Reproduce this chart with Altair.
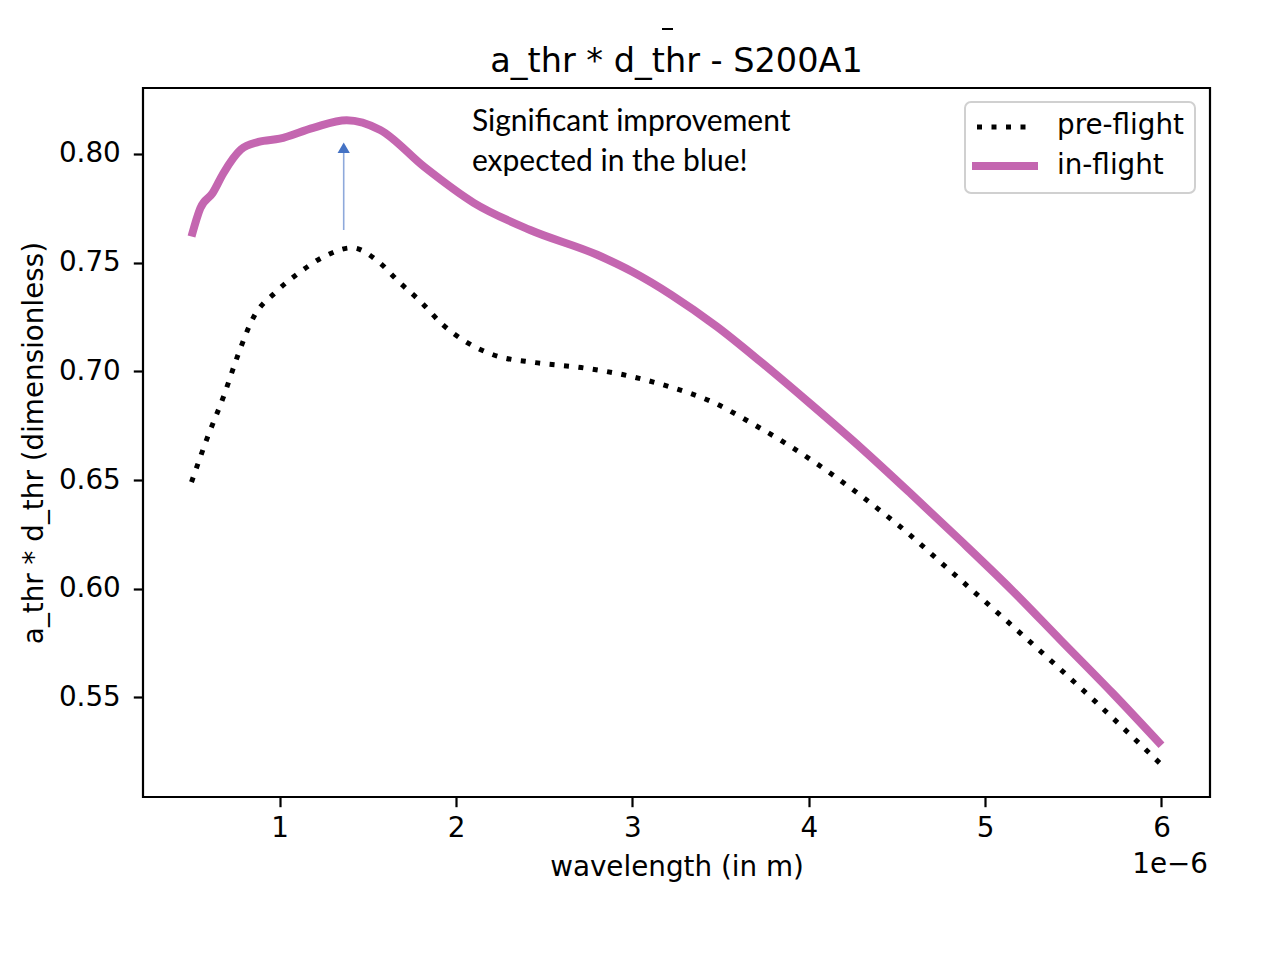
import altair as alt
import pandas as pd

# wavelength in units of 1e-6 m
wl_in = [0.50, 0.55, 0.62, 0.68, 0.78, 0.88, 1.00, 1.19, 1.38, 1.57, 1.82, 2.10, 2.42,
         2.80, 3.00, 3.22, 3.48, 3.73, 4.01, 4.30, 4.58, 4.86, 5.15, 5.43, 5.72, 6.00]
val_in = [0.762, 0.775, 0.782, 0.791, 0.802, 0.8055, 0.807, 0.812, 0.8155, 0.811, 0.794,
          0.7775, 0.765, 0.7536, 0.7458, 0.7352, 0.7205, 0.7042, 0.685, 0.6645, 0.6436,
          0.6222, 0.5995, 0.5762, 0.5522, 0.528]
wl_pre = [0.50, 0.59, 0.68, 0.76, 0.85, 0.98, 1.11, 1.25, 1.41, 1.56, 1.675, 1.80, 1.925,
          2.055, 2.21, 2.45, 2.71, 2.95, 3.21, 3.45, 3.70, 3.88, 4.04, 4.30, 4.56, 4.75,
          5.19, 5.63, 6.00]
val_pre = [0.649, 0.6695, 0.688, 0.7067, 0.7246, 0.7366, 0.7453, 0.7527, 0.7568, 0.7504,
           0.7412, 0.732, 0.7214, 0.7136, 0.7076, 0.704, 0.7017, 0.6984, 0.6929, 0.686,
           0.675, 0.6663, 0.6578, 0.6425, 0.6257, 0.612, 0.5803, 0.5477, 0.519]

x_ticks = [1, 2, 3, 4, 5, 6]
y_ticks = [0.55, 0.60, 0.65, 0.70, 0.75, 0.80]
series_names = ["pre-flight", "in-flight"]
title_text = "a_thr * d_thr - S200A1"
x_title = "wavelength (in m)"
y_title = "a_thr * d_thr (dimensionless)"
annotation_lines = ["Significant improvement", "expected in the blue!"]
arrow_x = [1.363]
arrow_y0 = [0.765]
arrow_y1 = [0.8012]
arrow_head_y = [0.8028]
ann_x = [2.09]
ann_y = [0.8106]

MAGENTA = "#C466B0"
FONT = "DejaVu Sans"
W, H = 1067, 709

df_in = pd.DataFrame({"wl": wl_in, "val": val_in})
df_pre = pd.DataFrame({"wl": wl_pre, "val": val_pre})

x_scale = alt.Scale(domain=[0.225, 6.275], nice=False, zero=False)
y_scale = alt.Scale(domain=[0.5042, 0.8303], nice=False, zero=False)

x_axis = alt.Axis(values=x_ticks, format="d", title=x_title, labelFontSize=27.8,
                  titleFontSize=27.8, titleFontWeight="normal", labelFont=FONT, titleFont=FONT,
                  labelColor="black", titleColor="black", tickColor="black",
                  tickSize=9.7, tickWidth=2.2, labelPadding=8,
                  titlePadding=11, domain=False, grid=False)
y_axis = alt.Axis(values=y_ticks, format=".2f", title=y_title, labelFontSize=27.8,
                  titleFontSize=27.8, titleFontWeight="normal", labelFont=FONT, titleFont=FONT,
                  labelColor="black", titleColor="black", tickColor="black",
                  tickSize=9.7, tickWidth=2.2, labelPadding=13,
                  titlePadding=10, domain=False, grid=False)

pre = alt.Chart(df_pre).mark_line(
    color="black", strokeWidth=5, strokeDash=[5, 9.5], strokeCap="butt", interpolate="monotone"
).encode(
    x=alt.X("wl:Q", scale=x_scale, axis=x_axis),
    y=alt.Y("val:Q", scale=y_scale, axis=y_axis),
)

inf = alt.Chart(df_in).mark_line(
    color=MAGENTA, strokeWidth=8, strokeCap="butt", interpolate="monotone"
).encode(x="wl:Q", y="val:Q")

arrow_df = pd.DataFrame({"x": arrow_x, "y0": arrow_y0, "y1": arrow_y1, "yh": arrow_head_y})
arrow = alt.Chart(arrow_df).mark_rule(color="#8EA9DB", strokeWidth=1.6).encode(
    x="x:Q", y="y0:Q", y2="y1:Q")
head = alt.Chart(arrow_df).mark_point(
    shape="triangle-up", filled=True, color="#4472C4", size=150, opacity=1
).encode(x="x:Q", y="yh:Q")

ann_df = pd.DataFrame({"x": ann_x, "y": ann_y, "t": [annotation_lines]})
ann = alt.Chart(ann_df).mark_text(
    align="left", baseline="alphabetic", font="Lato", fontSize=30, lineHeight=40, color="black"
).encode(x="x:Q", y="y:Q", text="t")

one = pd.DataFrame({"k": [0]})
leg_box = alt.Chart(one).mark_rect(
    fill="white", fillOpacity=0.8, stroke="#d0d0d0", strokeWidth=2, cornerRadius=6
).encode(x=alt.value(822), x2=alt.value(1052), y=alt.value(14), y2=alt.value(105))

leg_pre = alt.Chart(one).mark_rule(
    color="black", strokeWidth=5, strokeDash=[5, 9.5], strokeCap="butt"
).encode(x=alt.value(834), x2=alt.value(884), y=alt.value(39))
leg_in = alt.Chart(one).mark_rule(color=MAGENTA, strokeWidth=8, strokeCap="butt").encode(
    x=alt.value(829), x2=alt.value(895), y=alt.value(78))

leg_text_df = pd.DataFrame({"name": series_names, "py": [38, 78]})
leg_text = alt.Chart(leg_text_df).mark_text(
    align="left", baseline="middle", font=FONT, fontSize=27.8, color="black"
).encode(x=alt.value(914), y=alt.Y("py:Q", scale=None), text="name:N")

offset_df = pd.DataFrame({"t": ["1e\u22126"]})
offset = alt.Chart(offset_df).mark_text(
    align="right", baseline="alphabetic", font=FONT, fontSize=27.8, color="black"
).encode(x=alt.value(1065), y=alt.value(785), text="t:N")

title_df = pd.DataFrame({"t": [title_text]})
title = alt.Chart(title_df).mark_text(
    align="center", baseline="alphabetic", font=FONT, fontSize=33.5, color="black"
).encode(x=alt.value(W / 2), y=alt.value(-16), text="t:N")

remnant = alt.Chart(one).mark_rule(color="black", strokeWidth=2).encode(
    x=alt.value(519), x2=alt.value(530), y=alt.value(-59))

chart = alt.layer(
    pre, inf, arrow, head, ann, leg_box, leg_pre, leg_in, leg_text, offset, title, remnant
).properties(
    width=W, height=H,
    background="white",
    padding={"left": 135, "top": 80, "right": 55, "bottom": 120},
    autosize=alt.AutoSizeParams(type="none"),
).configure_view(
    stroke="black", strokeWidth=2.2
)

chart.save("out.html", embed_options={"renderer": "svg", "actions": False})
